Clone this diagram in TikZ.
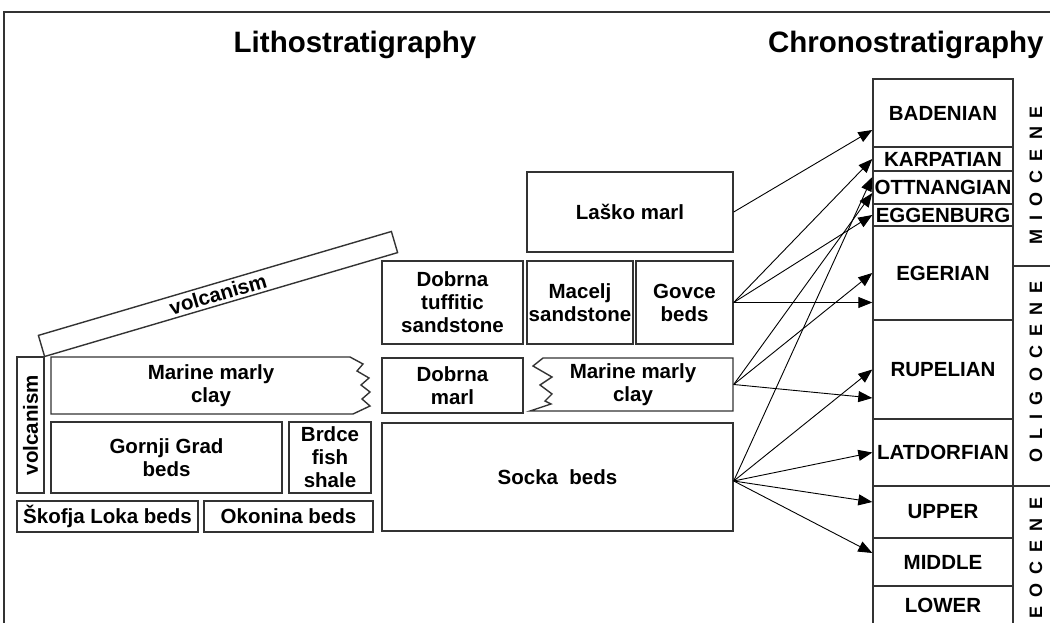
\documentclass[tikz,border=0pt]{standalone}
\usepackage{fontspec}
\setmainfont{Liberation Sans}
\usetikzlibrary{arrows.meta}

\newcommand{\epochfont}{\bfseries\fontsize{18}{18}\selectfont\spaceskip 9pt\relax}

\begin{document}
\begin{tikzpicture}[x=1pt, y=-1pt,
  bed box/.style={draw=black!80, line width=1.4pt, rectangle, inner sep=0pt,
                  align=center, font=\bfseries\fontsize{20.5}{23}\selectfont},
  stage box/.style={bed box, minimum width=140pt},
  epoch label/.style={rotate=90, inner sep=0pt, font=\epochfont},
  link/.style={-{Triangle[length=14pt, width=11pt]}, line width=0.9pt}]

\useasboundingbox (0,0) rectangle (1050,623);
\clip (0,0) rectangle (1050,623);

\draw[black!80, line width=1.4pt] (4,623) -- (4,12) -- (1050,12);

\node[anchor=base, font=\bfseries\fontsize{29.5}{29.5}\selectfont]
                        (41) at (355,53) {Lithostratigraphy};
\node[anchor=base east, font=\bfseries\fontsize{29.5}{29.5}\selectfont]
                        (42) at (1047,53) {Chronostratigraphy};

\node[bed box, minimum width=206pt, minimum height=80pt] (1) at (630,212) {La\v{s}ko marl};
\node[bed box, minimum width=141pt, minimum height=83pt] (2) at (452.5,302.5)
                        {Dobrna\\tuffitic\\sandstone};
\node[bed box, minimum width=106pt, minimum height=83pt] (3) at (580,302.5) {Macelj\\sandstone};
\node[bed box, minimum width=97pt, minimum height=83pt] (4) at (684.5,302.5) {Govce\\beds};
\node[bed box, minimum width=141pt, minimum height=55pt] (5) at (452.5,385.5) {Dobrna\\marl};
\draw[bed box] (733,358) -- (543,358) -- (533,366) -- (552,377) -- (540,385) -- (552,394)
                        -- (545,401) -- (551,404) -- (530,411) -- (733,411) -- cycle;
\node[bed box, draw=none, minimum width=200pt, minimum height=53pt] (6) at (633,384.5)
                        {Marine marly\\clay};
\node[bed box, minimum width=351pt, minimum height=108pt] (7) at (557.5,477) {Socka~ beds};

\draw[bed box] (350,357) -- (51,357) -- (51,414) -- (353,414) -- (370,406) -- (362,399)
                        -- (370,392) -- (361,385) -- (369,378) -- (357,371) -- (363,364) -- cycle;
\node[bed box, draw=none] (8) at (211,385.5) {Marine marly\\clay};
\node[bed box, minimum width=231pt, minimum height=71pt] (9) at (166.5,457.5) {Gornji Grad\\beds};
\node[bed box, minimum width=82pt, minimum height=71pt] (10) at (330,457.5) {Brdce\\fish\\shale};
\node[bed box, minimum width=181pt, minimum height=31pt] (11) at (107.5,516.5) {\v{S}kofja Loka beds};
\node[bed box, minimum width=169pt, minimum height=31pt] (12) at (288.5,516.5) {Okonina beds};
\node[bed box, rotate=90, minimum width=136pt, minimum height=27pt] (13) at (30.5,425) {volcanism};
\node[bed box, rotate=16.4, minimum width=368pt, minimum height=22pt] (14) at (218,294) {volcanism};

\node[stage box, minimum height=68pt] (21) at (943,113) {BADENIAN};
\node[stage box, minimum height=24pt] (22) at (943,159) {KARPATIAN};
\node[stage box, minimum height=33pt] (23) at (943,187.5) {OTTNANGIAN};
\node[stage box, minimum height=22pt] (24) at (943,215) {EGGENBURG};
\node[stage box, minimum height=94pt] (25) at (943,273) {EGERIAN};
\node[stage box, minimum height=99pt] (26) at (943,369.5) {RUPELIAN};
\node[stage box, minimum height=67pt] (27) at (943,452.5) {LATDORFIAN};
\node[stage box, minimum height=52pt] (28) at (943,512) {UPPER};
\node[stage box, minimum height=48pt] (29) at (943,562) {MIDDLE};
\node[stage box, minimum height=38pt] (30) at (943,605) {LOWER};

\draw[black!80, line width=1.4pt] (1013,266) -- (1050,266);
\draw[black!80, line width=1.4pt] (1013,486) -- (1050,486);
\node[epoch label] (31) at (1036,175) {M I O C E N E};
\node[epoch label] (32) at (1036,372) {O L I G O C E N E};
\node[epoch label] (33) at (1036,558) {E O C E N E};

\draw[link] (1.east) -- ([yshift=-17pt]21.west);
\draw[link] (4.east) -- (22.west);
\draw[link] (4.east) -- (24.west);
\draw[link] (4.east) -- (4.east -| 25.west);
\draw[link] (6.east) -- ([yshift=-5.5pt]23.west);
\draw[link] (6.east) -- (25.west);
\draw[link] (6.east) -- ([yshift=-28.5pt]26.west);
\draw[link] ([yshift=-4pt]7.east) -- ([yshift=10.5pt]23.west);
\draw[link] ([yshift=-4pt]7.east) -- (26.west);
\draw[link] ([yshift=-4pt]7.east) -- (27.west);
\draw[link] ([yshift=-4pt]7.east) -- ([yshift=10pt]28.west);
\draw[link] ([yshift=-4pt]7.east) -- ([yshift=9pt]29.west);

\end{tikzpicture}
\end{document}
